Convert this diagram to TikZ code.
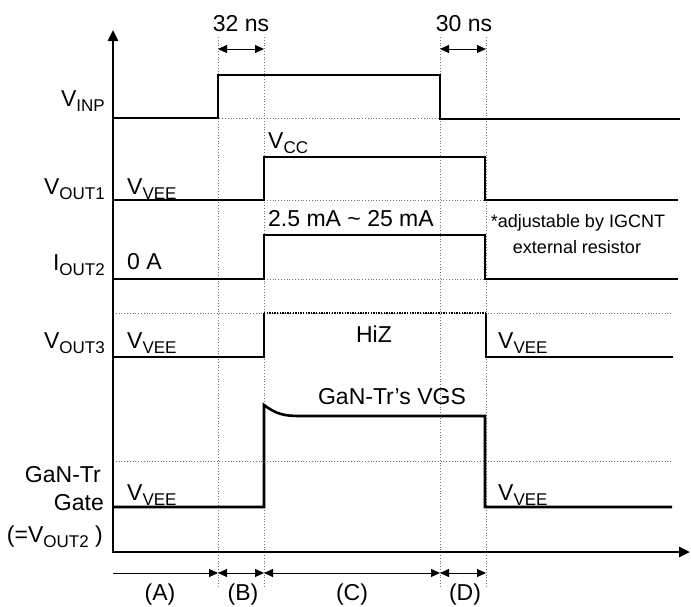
\documentclass[tikz,border=0pt]{standalone}
\usepackage{fontspec}
\setmainfont{Liberation Sans}
\usetikzlibrary{arrows.meta}
\newcommand{\lowidx}[1]{\raisebox{-5pt}{\fontsize{17}{17}\selectfont #1}}

\begin{document}
\begin{tikzpicture}[x=1pt,y=-1pt,
  wave/.style={draw=black,line width=2.6pt},
  guide/.style={draw=black!55,line width=0.8pt,dotted},
  lbl/.style={inner sep=0pt,font=\fontsize{23}{27}\selectfont},
  note/.style={inner sep=0pt,font=\fontsize{18}{21}\selectfont},
  span/.style={draw=black,line width=0.8pt,{Triangle[length=9pt,width=8pt]}-{Triangle[length=9pt,width=8pt]}}]
\useasboundingbox (0,0) rectangle (691,606);
% time marks:
\coordinate (tA) at (113,573);
\coordinate (t1) at (218,573);
\coordinate (t2) at (264,573);
\coordinate (t3) at (440,573);
\coordinate (t4) at (486,573);
\coordinate (u1) at (218,49);
\coordinate (u2) at (264,49);
\coordinate (u3) at (440,49);
\coordinate (u4) at (486,49);
% guides:
\path[guide] (218,37) -- (218,587);
\path[guide] (264,37) -- (264,587);
\path[guide] (440,37) -- (440,587);
\path[guide] (486,37) -- (486,587);
\path[guide] (113,118) -- (680,118);
\path[guide] (113,200) -- (678,200);
\path[guide] (113,279) -- (678,279);
\path[guide] (113,313) -- (673,313);
\path[guide] (113,461) -- (673,461);
% axes:
\coordinate (ytop) at (113,30);
\coordinate (xend) at (690,552);
\path[draw=black,line width=2.6pt,{Triangle[length=11pt,width=10pt]}-{Triangle[length=11pt,width=10pt]}] (ytop) |- (xend);
% waves:
\path[wave] (113,118) -- (218,118) -- (218,75) -- (440,75) -- (440,119) -- (680,119);
\path[wave] (113,200) -- (264,200) -- (264,157) -- (485,157) -- (485,200) -- (678,200);
\path[wave] (113,279) -- (264,279) -- (264,235) -- (485,235) -- (485,279) -- (678,279);
\path[wave] (113,357) -- (264,357) -- (264,313);
\path[draw=black,line width=2.4pt,dash pattern=on 1.3pt off 1.3pt] (264,313) -- (486,313);
\path[wave] (486,313) -- (486,357) -- (673,357);
\path[wave] (113,507) -- (264,507) -- (264,405) .. controls (276,414) and (284,416) .. (300,416) -- (485,416) -- (485,507) -- (672,507);
% spans:
\path[draw=black,line width=0.8pt,-{Triangle[length=9pt,width=8pt]}] (tA) -- (t1);
\path[span] (t1) -- (t2);
\path[span] (t2) -- (t3);
\path[span] (t3) -- (t4);
\path[span] (u1) -- (u2);
\path[span] (u3) -- (u4);
% labels:
\node[lbl] (ns32) at (241,24) {32 ns};
\node[lbl] (ns30) at (464,24) {30 ns};
\node[lbl,anchor=base east] (vinp) at (105,106) {V\lowidx{INP}};
\node[lbl,anchor=base east] (vout1) at (105,194) {V\lowidx{OUT1}};
\node[lbl,anchor=base east] (iout2) at (105,270) {I\lowidx{OUT2}};
\node[lbl,anchor=base east] (vout3) at (105,348) {V\lowidx{OUT3}};
\node[lbl,anchor=base east] (gate1) at (101,482) {GaN-Tr};
\node[lbl,anchor=base east] (gate2) at (104,510) {Gate};
\node[lbl,anchor=base east] (gate3) at (103,542) {(=V\lowidx{OUT2} )};
\node[lbl,anchor=base west] (vee1) at (127,194) {V\lowidx{VEE}};
\node[lbl,anchor=base west] (vcc) at (268,148) {V\lowidx{CC}};
\node[lbl,anchor=base west] (ma) at (268,226) {2.5 mA \char`~\ 25 mA};
\node[lbl,anchor=base west] (zeroa) at (127,269) {0 A};
\node[lbl,anchor=base west] (vee2) at (127,348) {V\lowidx{VEE}};
\node[lbl,anchor=base] (hiz) at (374,342) {HiZ};
\node[lbl,anchor=base west] (vee3) at (498,348) {V\lowidx{VEE}};
\node[lbl,anchor=base] (vgs) at (392,404) {GaN-Tr’s VGS};
\node[lbl,anchor=base west] (vee4) at (127,500) {V\lowidx{VEE}};
\node[lbl,anchor=base west] (vee5) at (498,500) {V\lowidx{VEE}};
\node[note,anchor=base] (note1) at (578,227) {*adjustable by IGCNT};
\node[note,anchor=base] (note2) at (577,253) {external resistor};
\node[lbl,anchor=base] (pa) at (160,600) {(A)};
\node[lbl,anchor=base] (pb) at (243,600) {(B)};
\node[lbl,anchor=base] (pc) at (352,600) {(C)};
\node[lbl,anchor=base] (pd) at (465,600) {(D)};
\end{tikzpicture}
\end{document}
